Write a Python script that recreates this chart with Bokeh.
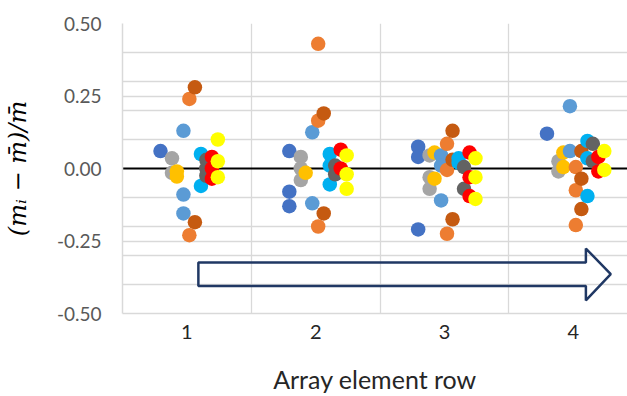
from bokeh.plotting import figure
from bokeh.models import FixedTicker, Span, Range1d, PolyAnnotation
from bokeh.embed import file_html
from bokeh.resources import INLINE

# ---- data ----
rows = [1, 2, 3, 4]
row_labels = ["1", "2", "3", "4"]
y_ticks = [-0.5, -0.25, 0.0, 0.25, 0.5]
y_tick_labels = ["-0.50", "-0.25", "0.00", "0.25", "0.50"]
y_grid = [-0.5, -0.4, -0.3, -0.25, -0.2, -0.1, 0.1, 0.2, 0.25, 0.3, 0.4, 0.5]
x_grid = [1.5, 2.5, 3.5]

series_colors = ["#4472C4", "#A5A5A5", "#FFC000", "#5B9BD5", "#ED7D31",
                 "#C55A11", "#00B0F0", "#636363", "#FF0000", "#FFFF00"]
series_offsets = [-0.205, -0.116, -0.078, -0.027, 0.019,
                  0.062, 0.109, 0.151, 0.194, 0.240]

# values per series, one list per array row (1..4)
s1 = [[0.06], [0.06, -0.08, -0.13], [0.075, 0.04, -0.21], [0.12]]
s2 = [[0.035, -0.015], [0.04, 0.0, -0.04], [0.045, -0.03, -0.07], [0.025, -0.01]]
s3 = [[-0.01, -0.028], [-0.015], [0.055, -0.035], [0.055, 0.005]]
s4 = [[0.13, -0.09, -0.155], [0.125, -0.12], [0.045, 0.01, -0.11], [0.215, 0.06]]
s5 = [[0.24, -0.23], [0.43, 0.165, -0.20], [0.085, -0.005, -0.225], [0.005, -0.075, -0.195]]
s6 = [[0.28, -0.185], [0.19, -0.155], [0.13, 0.03, -0.175], [0.06, -0.035, -0.14]]
s7 = [[0.05, -0.06], [0.05, 0.01, -0.055], [0.035, 0.02], [0.095, 0.035, -0.095]]
s8 = [[0.03, 0.0, -0.025], [0.01, -0.02], [0.005, -0.07], [0.085, 0.025]]
s9 = [[0.04, 0.0, -0.035], [0.065, 0.0], [0.055, -0.03, -0.095], [0.04, -0.01]]
s10 = [[0.10, 0.025, -0.03], [0.045, -0.02, -0.07], [0.035, -0.03, -0.105], [0.06, -0.005]]
series = [s1, s2, s3, s4, s5, s6, s7, s8, s9, s10]

# trend arrow outline (data units)
arrow_xs = [1.089, 4.097, 4.097, 4.29, 4.097, 4.097, 1.089]
arrow_ys = [-0.324, -0.324, -0.276, -0.364, -0.455, -0.405, -0.405]

p = figure(width=627, height=396, output_backend="svg", toolbar_location=None,
           x_range=Range1d(0.5, 4.42), y_range=Range1d(-0.5, 0.5),
           min_border_left=121, min_border_top=23, min_border_right=0,
           min_border_bottom=83)
p.outline_line_color = None
p.background_fill_color = "white"

p.ygrid.ticker = FixedTicker(ticks=y_grid)
p.ygrid.grid_line_color = "#d9d9d9"
p.ygrid.grid_line_width = 1.3
p.xgrid.ticker = FixedTicker(ticks=x_grid)
p.xgrid.grid_line_color = "#d9d9d9"
p.xgrid.grid_line_width = 1.3

zero = Span(location=0, dimension="width", line_color="black", line_width=2.2, level="underlay")
p.add_layout(zero)

for vals, col, off in zip(series, series_colors, series_offsets):
    xs, ys = [], []
    for r, vv in zip(rows, vals):
        for v in vv:
            xs.append(r + off)
            ys.append(v)
    p.scatter(xs, ys, size=14.5, fill_color=col, line_color=None)

p.add_layout(PolyAnnotation(xs=arrow_xs, ys=arrow_ys, fill_alpha=0,
                            line_color="#203864", line_alpha=1.0, line_width=2.5))

# y axis
p.yaxis.ticker = FixedTicker(ticks=y_ticks)
p.yaxis.major_label_overrides = {t: l for t, l in zip(y_ticks, y_tick_labels)}
p.yaxis.major_tick_out = 0
p.yaxis.major_tick_in = 0
p.yaxis.minor_tick_out = 0
p.yaxis.minor_tick_in = 0
p.yaxis.axis_line_color = "#d9d9d9"
p.yaxis.axis_line_width = 1.5
p.yaxis.major_label_standoff = 21
p.yaxis.major_label_text_font = "Lato"
p.yaxis.major_label_text_font_size = "19px"
p.yaxis.major_label_text_color = "#595959"
p.yaxis.axis_label = "(mᵢ − m̄)/m̄"
p.yaxis.axis_label_text_font = "DejaVu Serif"
p.yaxis.axis_label_text_font_style = "italic"
p.yaxis.axis_label_text_font_size = "24px"
p.yaxis.axis_label_text_color = "#000000"
p.yaxis.axis_label_standoff = 22

# x axis
p.xaxis.ticker = FixedTicker(ticks=rows)
p.xaxis.major_label_overrides = {r: l for r, l in zip(rows, row_labels)}
p.xaxis.major_tick_out = 0
p.xaxis.major_tick_in = 0
p.xaxis.minor_tick_out = 0
p.xaxis.minor_tick_in = 0
p.xaxis.axis_line_color = "#d9d9d9"
p.xaxis.axis_line_width = 1.5
p.xaxis.major_label_standoff = 11
p.xaxis.major_label_text_font = "Lato"
p.xaxis.major_label_text_font_size = "20px"
p.xaxis.major_label_text_color = "#262626"
p.xaxis.axis_label = "Array element row"
p.xaxis.axis_label_text_font = "Lato"
p.xaxis.axis_label_text_font_style = "normal"
p.xaxis.axis_label_text_font_size = "25px"
p.xaxis.axis_label_text_color = "#262626"
p.xaxis.axis_label_standoff = 22

open("out.html", "w").write(file_html(p, INLINE))
